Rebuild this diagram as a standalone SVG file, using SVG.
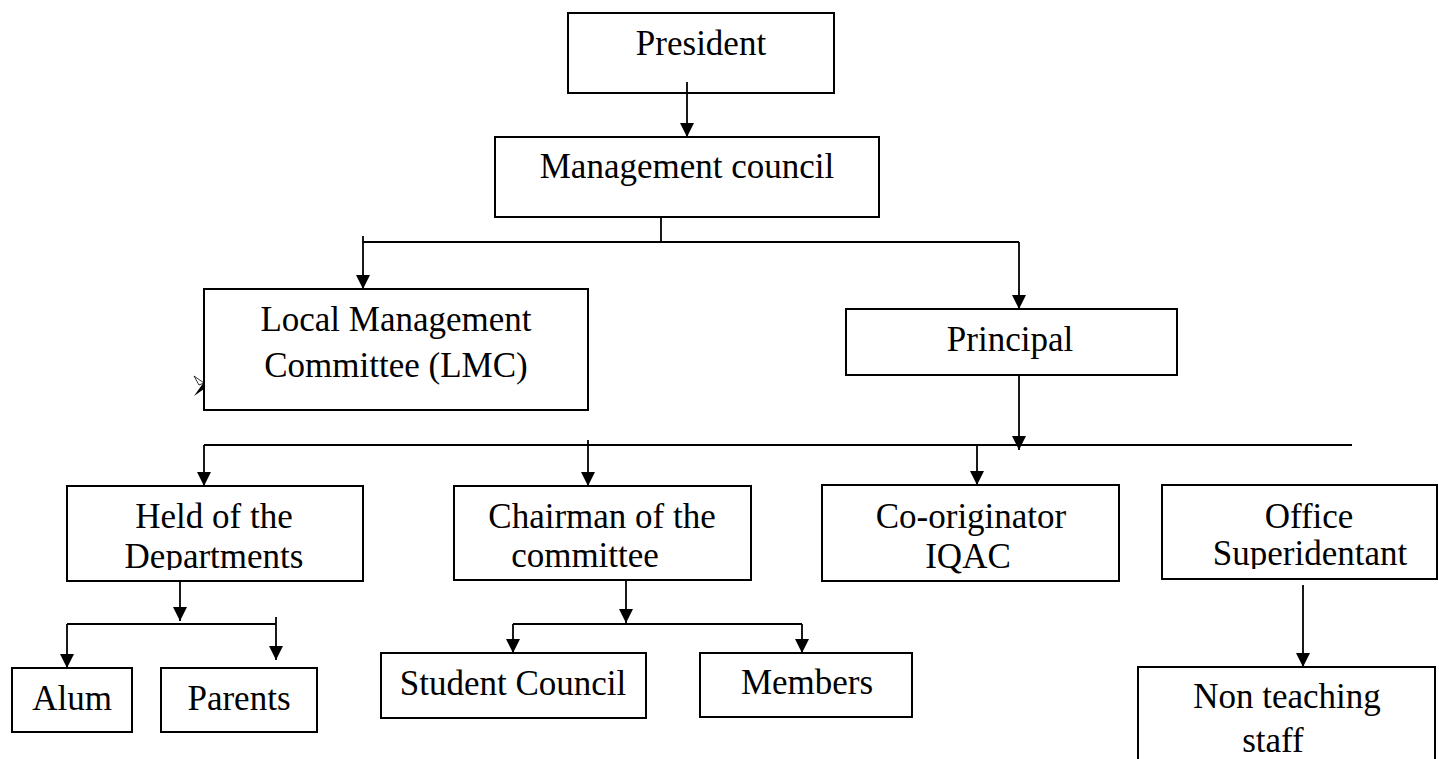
<svg xmlns="http://www.w3.org/2000/svg" width="1439" height="759" viewBox="0 0 1439 759">
<style>
.box{fill:#fff;stroke:#000;stroke-width:2}
.t{font-family:"Liberation Serif","Times New Roman",serif;font-size:35px;fill:#000;text-anchor:middle}
.c{stroke:#000;stroke-width:1.8;fill:none}
.a{marker-end:url(#ah)}
</style>
<defs>
<marker id="ah" markerUnits="userSpaceOnUse" markerWidth="14" markerHeight="15" refX="14" refY="7" orient="auto">
<path d="M0,0 L14,7 L0,14 z" fill="#000"/>
</marker>
<clipPath id="clipHod"><rect x="67" y="486" width="296" height="84"/></clipPath>
<clipPath id="clipOff"><rect x="1162" y="485" width="277" height="84"/></clipPath>
</defs>
<rect width="1439" height="759" fill="#fff"/>

<g id="president"><rect class="box" x="568" y="13" width="266" height="80"/><text class="t" x="701" y="55">President</text></g>
<g id="management-council"><rect class="box" x="495" y="137" width="384" height="80"/><text class="t" x="687" y="178">Management council</text></g>
<g id="lmc"><rect class="box" x="204" y="289" width="384" height="121"/><text class="t" x="396" y="331">Local Management</text><text class="t" x="396" y="377">Committee (LMC)</text>
<path d="M194,376 L204,383 L199,385 Z" fill="#fff" stroke="#000" stroke-width="0.8"/><path d="M194,396 L204,382 L204,389 Z" fill="#000"/></g>
<g id="principal"><rect class="box" x="846" y="309" width="331" height="66"/><text class="t" x="1010" y="351">Principal</text></g>
<g id="hod"><rect class="box" x="67" y="486" width="296" height="95"/><text class="t" x="214" y="528">Held of the</text><text class="t" x="214" y="568" clip-path="url(#clipHod)">Departments</text></g>
<g id="chairman"><rect class="box" x="454" y="486" width="297" height="94"/><text class="t" x="602" y="528">Chairman of the</text><text class="t" x="585" y="567">committee</text></g>
<g id="coorig"><rect class="box" x="822" y="485" width="297" height="96"/><text class="t" x="971" y="528">Co-originator</text><text class="t" x="968" y="568">IQAC</text></g>
<g id="office"><rect class="box" x="1162" y="485" width="275" height="94"/><text class="t" x="1309" y="528">Office</text><text class="t" x="1310" y="565" clip-path="url(#clipOff)">Superidentant</text></g>
<g id="alum"><rect class="box" x="12" y="668" width="120" height="64"/><text class="t" x="72" y="710">Alum</text></g>
<g id="parents"><rect class="box" x="161" y="668" width="156" height="64"/><text class="t" x="239" y="710">Parents</text></g>
<g id="student-council"><rect class="box" x="381" y="653" width="265" height="65"/><text class="t" x="513" y="695">Student Council</text></g>
<g id="members"><rect class="box" x="700" y="653" width="212" height="64"/><text class="t" x="807" y="694">Members</text></g>
<g id="non-teaching"><rect class="box" x="1138" y="667" width="297" height="110"/><text class="t" x="1287" y="708">Non teaching</text><text class="t" x="1273" y="752">staff</text></g>

<g id="connectors">
<line class="c a" x1="687" y1="82" x2="687" y2="137"/>
<line class="c" x1="661" y1="217" x2="661" y2="242"/>
<line class="c" x1="363" y1="242" x2="1019" y2="242"/>
<line class="c a" x1="363" y1="236" x2="363" y2="289"/>
<line class="c a" x1="1019" y1="242" x2="1019" y2="309"/>
<line class="c a" x1="1019" y1="375" x2="1019" y2="450"/>
<line class="c" x1="204" y1="445" x2="1352" y2="445"/>
<line class="c a" x1="204" y1="445" x2="204" y2="486"/>
<line class="c a" x1="588" y1="440" x2="588" y2="486"/>
<line class="c a" x1="977" y1="445" x2="977" y2="485"/>
<line class="c a" x1="180" y1="581" x2="180" y2="621"/>
<line class="c" x1="67" y1="624" x2="276" y2="624"/>
<line class="c a" x1="67" y1="624" x2="67" y2="668"/>
<line class="c a" x1="276" y1="617" x2="276" y2="660"/>
<line class="c a" x1="626" y1="580" x2="626" y2="623"/>
<line class="c" x1="513" y1="624" x2="802" y2="624"/>
<line class="c a" x1="513" y1="624" x2="513" y2="653"/>
<line class="c a" x1="802" y1="624" x2="802" y2="653"/>
<line class="c a" x1="1303" y1="585" x2="1303" y2="667"/>
</g>
</svg>
